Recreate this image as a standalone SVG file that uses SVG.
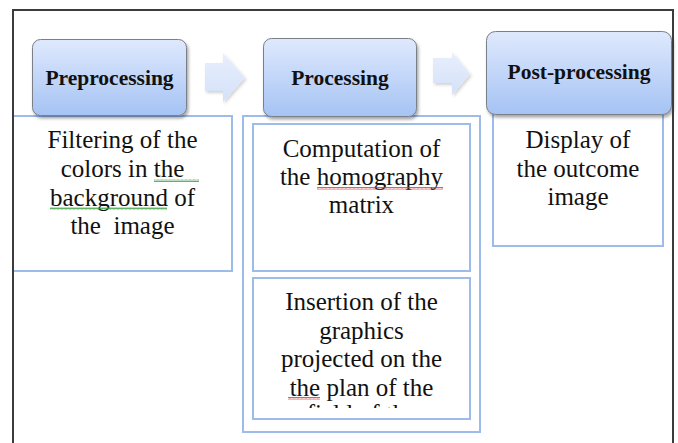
<svg xmlns="http://www.w3.org/2000/svg" width="678" height="443" viewBox="0 0 678 443">
  <style>
    .head { fill: url(#headGrad); stroke: #7a7f88; stroke-width: 1; filter: url(#shadow); }
    .headText { font-family: "Liberation Serif", "Times New Roman", serif; font-weight: bold; font-size: 21.5px; fill: #111; text-anchor: middle; }
    .desc { fill: #ffffff; stroke: #9dbce9; stroke-width: 2; }
    .descText { font-family: "Liberation Serif", "Times New Roman", serif; font-size: 25px; fill: #111; text-anchor: middle; }
    .arrow { fill: url(#arrowGrad); filter: url(#softShadow); }
  </style>
  <defs>
    <linearGradient id="headGrad" x1="0" y1="0" x2="0" y2="1">
      <stop offset="0" stop-color="#dfe9fd"/>
      <stop offset="1" stop-color="#a5c3f4"/>
    </linearGradient>
    <linearGradient id="arrowGrad" x1="0" y1="0" x2="0" y2="1">
      <stop offset="0" stop-color="#e8effd"/>
      <stop offset="1" stop-color="#d4e1f9"/>
    </linearGradient>
    <filter id="shadow" x="-10%" y="-10%" width="125%" height="130%">
      <feDropShadow dx="1.5" dy="2.5" stdDeviation="1.5" flood-color="#000" flood-opacity="0.35"/>
    </filter>
    <filter id="softShadow" x="-20%" y="-20%" width="150%" height="150%">
      <feDropShadow dx="1.5" dy="2" stdDeviation="1.5" flood-color="#000" flood-opacity="0.18"/>
    </filter>
    <pattern id="squiggleRed" width="4" height="3" patternUnits="userSpaceOnUse">
      <path d="M0,2.5 L1,0.5 L2,2.5 L3,0.5 L4,2.5" fill="none" stroke="#e03030" stroke-width="0.8"/>
    </pattern>
    <pattern id="squiggleGreen" width="4" height="3" patternUnits="userSpaceOnUse">
      <path d="M0,2.5 L1,0.5 L2,2.5 L3,0.5 L4,2.5" fill="none" stroke="#3aa040" stroke-width="0.8"/>
    </pattern>
    <clipPath id="insertClip">
      <rect x="254" y="279" width="215" height="129"/>
    </clipPath>
  </defs>

  <rect width="678" height="443" fill="#ffffff"/>

  <!-- Preprocessing column -->
  <g id="preprocessing-detail">
    <rect class="desc" x="13" y="116" width="219" height="155"/>
    <text class="descText" x="122.5" y="148">Filtering of the</text>
    <text class="descText" x="122.5" y="177">colors in the</text>
    <text class="descText" x="122.5" y="205.5">background of</text>
    <text class="descText" x="122.5" y="234" xml:space="preserve">the  image</text>
    <rect x="154" y="179" width="45" height="3" fill="url(#squiggleGreen)"/>
    <rect x="50" y="207" width="117" height="3" fill="url(#squiggleGreen)"/>
  </g>

  <!-- Processing column -->
  <g id="processing-detail">
    <rect class="desc" x="243" y="116" width="237" height="316"/>
    <rect class="desc" x="253" y="124" width="217" height="147"/>
    <rect class="desc" x="253" y="278" width="217" height="141"/>
  </g>
  <g id="homography">
    <text class="descText" x="361.5" y="157">Computation of</text>
    <text class="descText" x="361.5" y="185">the homography</text>
    <text class="descText" x="361.5" y="213">matrix</text>
    <rect x="317" y="187" width="126" height="3" fill="url(#squiggleRed)"/>
  </g>
  <g id="insertion">
    <g clip-path="url(#insertClip)">
      <text class="descText" x="361.5" y="310">Insertion of the</text>
      <text class="descText" x="361.5" y="338.5">graphics</text>
      <text class="descText" x="361.5" y="367">projected on the</text>
      <text class="descText" x="361.5" y="395.5">the plan of the</text>
      <text class="descText" x="361.5" y="421.5">field of the</text>
    </g>
    <rect x="288" y="397" width="32" height="3" fill="url(#squiggleRed)"/>
  </g>

  <!-- Post-processing column -->
  <g id="postprocessing-detail">
    <rect class="desc" x="493" y="112" width="170" height="134"/>
    <text class="descText" x="578" y="148">Display of</text>
    <text class="descText" x="578" y="177">the outcome</text>
    <text class="descText" x="578" y="205">image</text>
  </g>

  <!-- Stage headers -->
  <g id="preprocessing">
    <rect class="head" x="32.5" y="39.5" width="154" height="76" rx="8"/>
    <text class="headText" x="109.5" y="85">Preprocessing</text>
  </g>
  <g id="processing">
    <rect class="head" x="263.5" y="38.5" width="153" height="78" rx="8"/>
    <text class="headText" x="340" y="85">Processing</text>
  </g>
  <g id="postprocessing">
    <rect class="head" x="486.5" y="31.5" width="185" height="83" rx="9"/>
    <text class="headText" x="579" y="79">Post-processing</text>
  </g>

  <!-- Flow arrows between stages -->
  <g id="connectors">
    <polygon class="arrow" points="205,63 223,63 223,53 245,77.5 223,102 223,91 205,91"/>
    <polygon class="arrow" points="433,58 452,58 452,52 470,74 452,95 452,83 433,83"/>
  </g>

  <!-- Outer frame, open at the bottom -->
  <path d="M13,443 V10 H673 V443" fill="none" stroke="#3c3c3c" stroke-width="2"/>
</svg>
